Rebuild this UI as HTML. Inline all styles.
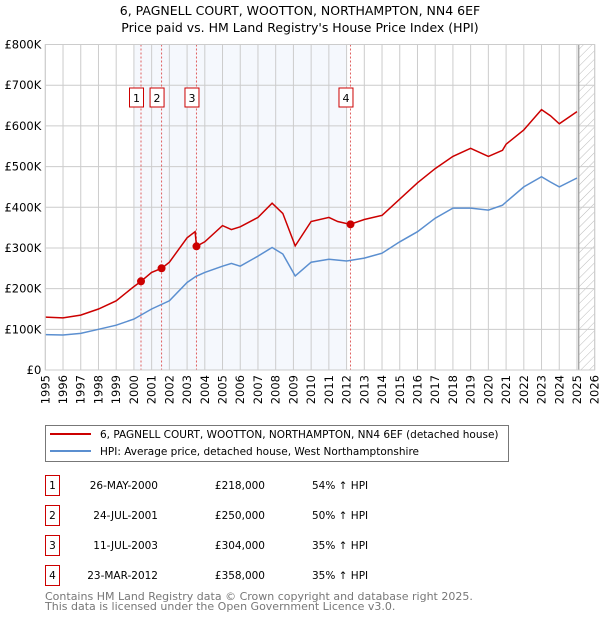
<!DOCTYPE html>
<html><head><meta charset="utf-8"><style>
body{margin:0;background:#fff;font-family:"DejaVu Sans","Liberation Sans",sans-serif;}
svg text{font-family:"DejaVu Sans","Liberation Sans",sans-serif;}
</style></head><body>
<svg id="chart" width="600" height="620" xmlns="http://www.w3.org/2000/svg">
<text x="300" y="15" text-anchor="middle" font-size="12.5">6, PAGNELL COURT, WOOTTON, NORTHAMPTON, NN4 6EF</text>
<text x="300" y="32" text-anchor="middle" font-size="12.5">Price paid vs. HM Land Registry's House Price Index (HPI)</text>
<g id="plot"></g>
<g>
<rect x="45.5" y="425.5" width="463" height="36" fill="#fff" stroke="#777"/>
<line x1="50" y1="434" x2="91" y2="434" stroke="#cc0000" stroke-width="2"/>
<text x="100" y="438" font-size="10.5">6, PAGNELL COURT, WOOTTON, NORTHAMPTON, NN4 6EF (detached house)</text>
<line x1="50" y1="451" x2="91" y2="451" stroke="#5b8fd0" stroke-width="2"/>
<text x="100" y="455" font-size="10.5">HPI: Average price, detached house, West Northamptonshire</text>
</g>
<g id="table"></g>
<text x="45" y="600" font-size="11" fill="#777">Contains HM Land Registry data © Crown copyright and database right 2025.</text>
<text x="45" y="610" font-size="11" fill="#777">This data is licensed under the Open Government Licence v3.0.</text>
</svg>
<script>
const hpiYears=[1995,1996,1997,1998,1999,2000,2001,2002,2003,2003.5,2004,2005,2005.5,2006,2007,2007.8,2008.4,2009.1,2010,2011,2012,2013,2014,2015,2016,2017,2018,2019,2020,2020.8,2021,2022,2023,2023.5,2024,2025];
const hpiValues=[87000,86000,90000,100000,110000,125000,150000,170000,215000,230000,240000,255000,262000,255000,280000,301000,285000,231000,265000,272000,268000,275000,287000,315000,340000,373000,398000,398000,393000,405000,413000,450000,475000,462000,450000,472000];
const redYears=[1995,1996,1997,1998,1999,2000,2000.4,2001,2001.56,2002,2003,2003.45,2003.53,2004,2005,2005.5,2006,2007,2007.8,2008.4,2009.1,2010,2011,2011.5,2012.2,2013,2014,2015,2016,2017,2018,2019,2020,2020.8,2021,2022,2023,2023.5,2024,2025];
const redValues=[130000,128000,135000,150000,170000,205000,218000,240000,250000,265000,325000,340000,304000,315000,355000,345000,352000,375000,410000,385000,305000,365000,375000,365000,358000,370000,380000,420000,460000,495000,525000,545000,525000,540000,555000,590000,640000,625000,605000,635000];
const saleYears=[2000.4,2001.56,2003.53,2012.22];
const salePrices=[218000,250000,304000,358000];
const saleLabels=["1","2","3","4"];
const saleDates=["26-MAY-2000","24-JUL-2001","11-JUL-2003","23-MAR-2012"];
const salePriceText=["£218,000","£250,000","£304,000","£358,000"];
const saleHpiText=["54% ↑ HPI","50% ↑ HPI","35% ↑ HPI","35% ↑ HPI"];
const yTicks=[0,100000,200000,300000,400000,500000,600000,700000,800000];
const yTickLabels=["£0","£100K","£200K","£300K","£400K","£500K","£600K","£700K","£800K"];
const xTicks=[1995,1996,1997,1998,1999,2000,2001,2002,2003,2004,2005,2006,2007,2008,2009,2010,2011,2012,2013,2014,2015,2016,2017,2018,2019,2020,2021,2022,2023,2024,2025,2026];

const L=45.3,R=594.7,T=44.5,B=370;
const x=v=>L+(v-1995)/(2026-1995)*(R-L);
const y=v=>B-v/800000*(B-T);
const NS="http://www.w3.org/2000/svg";
const plot=document.getElementById('plot');
function mk(tag,attrs,parent){const e=document.createElementNS(NS,tag);for(const k in attrs)e.setAttribute(k,attrs[k]);(parent||plot).appendChild(e);return e;}
let e=mk('rect',{x:L,y:T,width:R-L,height:B-T,fill:'#fff'});


e=mk('rect',{x:x(2000),y:T,width:x(2012)-x(2000),height:B-T,fill:'#eef3fc',opacity:0.6});


const defs=mk('defs',{});
const pat=mk('pattern',{id:'hatch',width:6,height:6,patternUnits:'userSpaceOnUse',patternTransform:'rotate(45)'},defs);
mk('line',{x1:0,y1:0,x2:0,y2:6,stroke:'#bbb','stroke-width':1},pat);
e=mk('rect',{x:x(2025.1),y:T,width:R-x(2025.1),height:B-T,fill:'url(#hatch)'});


xTicks.forEach(t=>{
 const g=mk('line',{x1:x(t),y1:T,x2:x(t),y2:B,stroke:'#ccc','stroke-width':1});
 
 
 const px=x(t)+4, py=B+5;
 const tx=mk('text',{x:px,y:py,'text-anchor':'end','font-size':11.5,transform:`rotate(-90 ${px} ${py})`});
 tx.textContent=t;
 
 
});
yTicks.forEach((t,i)=>{
 const g=mk('line',{x1:L,y1:y(t),x2:R,y2:y(t),stroke:'#ccc','stroke-width':1});
 
 
 const tx=mk('text',{x:L-4,y:y(t)+4,'text-anchor':'end','font-size':11.5});
 tx.textContent=yTickLabels[i];
 
 
});
e=mk('line',{x1:x(2025.1),y1:T,x2:x(2025.1),y2:B,stroke:'#999','stroke-width':1.2});


saleYears.forEach((s,i)=>{
 const l=mk('line',{x1:x(s),y1:T,x2:x(s),y2:B,stroke:'#e06060','stroke-width':1,'stroke-dasharray':'2,2'});
 
 
});
const pts=(xs,vs)=>xs.map((t,i)=>x(t).toFixed(1)+','+y(vs[i]).toFixed(1)).join(' ');
e=mk('polyline',{points:pts(hpiYears,hpiValues),fill:'none',stroke:'#5b8fd0','stroke-width':1.5});


e=mk('polyline',{points:pts(redYears,redValues),fill:'none',stroke:'#cc0000','stroke-width':1.5});


saleYears.forEach((s,i)=>{
 const c=mk('circle',{cx:x(s),cy:y(salePrices[i]),r:4,fill:'#cc0000'});
 
 
 const bx=x(s)-11.5;
 const r=mk('rect',{x:bx,y:88,width:14,height:19,fill:'#fff',stroke:'#cc0000','stroke-width':1});
 
 
 const tx=mk('text',{x:bx+7,y:102,'text-anchor':'middle','font-size':11});
 tx.textContent=saleLabels[i];
 
 
});
e=mk('rect',{x:L,y:T,width:R-L,height:B-T,fill:'none',stroke:'#ccc'});


const table=document.getElementById('table');
saleLabels.forEach((lb,i)=>{
 const yy=475+i*30;
 const r=mk('rect',{x:45.5,y:yy+0.5,width:14,height:20,fill:'#fff',stroke:'#cc0000'},table);
 
 
 const cells=[[52.5,lb,'middle'],[158,saleDates[i],'end'],[265,salePriceText[i],'end'],[312,saleHpiText[i],'start']];
 cells.forEach(c=>{
  const t=mk('text',{x:c[0],y:yy+14,'text-anchor':c[2],'font-size':10.5},table);
  t.textContent=c[1];
  
  
 });
});
</script>
</body></html>
